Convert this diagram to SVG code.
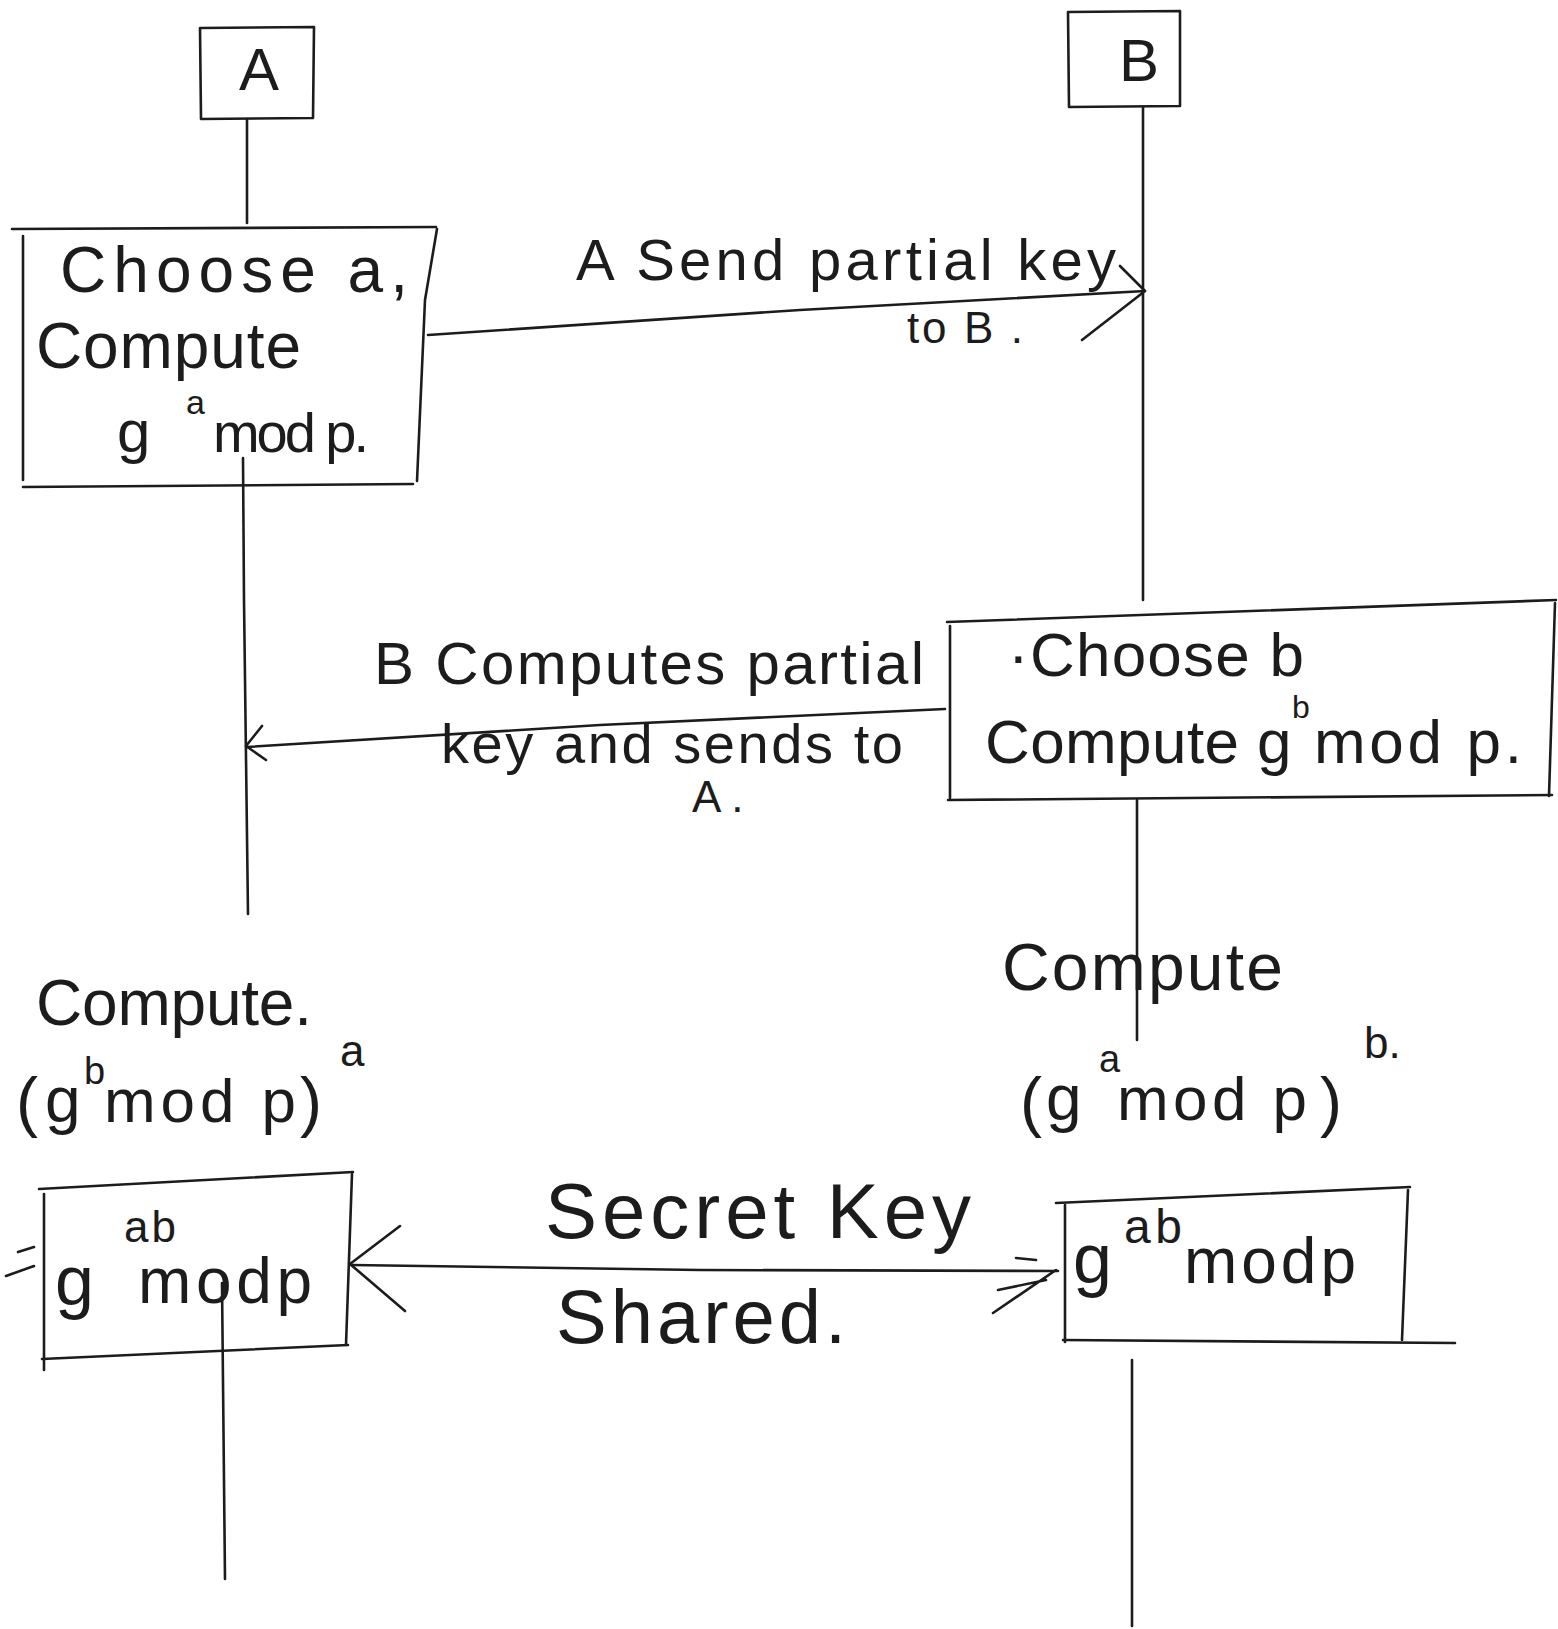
<svg xmlns="http://www.w3.org/2000/svg" width="1558" height="1629" viewBox="0 0 1558 1629">
<style>
  .ln{fill:none;stroke:#1c1c1c;stroke-width:2.6;stroke-linecap:round;stroke-linejoin:round}
  .t{font-family:"Liberation Sans","DejaVu Sans",sans-serif;fill:#1c1c1c}
  .sup{font-size:38px}
</style>
<rect width="1558" height="1629" fill="#ffffff"/>
<g id="lifelines">
  <path class="ln" d="M247 119 L247 223"/>
  <path class="ln" d="M243 458 L244 600 L248 914"/>
  <path class="ln" d="M222 1283 L225 1579"/>
  <path class="ln" d="M1143 107 L1143 600"/>
  <path class="ln" d="M1137 800 L1137 1040"/>
  <path class="ln" d="M1132 1360 L1132 1626"/>
</g>
<g id="node-A">
  <path class="ln" d="M200 28 L314 27 L313 118 L201 119 Z"/>
  <text class="t" x="259" y="90" font-size="60" text-anchor="middle">A</text>
</g>
<g id="node-B">
  <path class="ln" d="M1068 12 L1180 11 L1180 106 L1069 107 Z"/>
  <text class="t" x="1139" y="81" font-size="60" text-anchor="middle">B</text>
</g>
<g id="node-choose-a">
  <path class="ln" d="M12 229 L436 227"/>
  <path class="ln" d="M23 236 L23 480"/>
  <path class="ln" d="M23 487 L413 484"/>
  <path class="ln" d="M437 229 L425 300 L417 481"/>
  <text class="t" x="60" y="292" font-size="64" textLength="348" lengthAdjust="spacing">Choose a,</text>
  <text class="t" x="36" y="368" font-size="64" textLength="265" lengthAdjust="spacing">Compute</text>
  <text class="t" x="117" y="452" font-size="60">g</text>
  <text class="t" x="186" y="414" font-size="34">a</text>
  <text class="t" x="213" y="452" font-size="56" textLength="156" lengthAdjust="spacing">mod p.</text>
</g>
<g id="node-choose-b">
  <path class="ln" d="M947 622 L1556 600"/>
  <path class="ln" d="M950 626 L950 798"/>
  <path class="ln" d="M948 800 L1552 795"/>
  <path class="ln" d="M1555 603 L1549 796"/>
  <text class="t" x="1008" y="676" font-size="62" textLength="296" lengthAdjust="spacing">·Choose b</text>
  <text class="t" x="985" y="763" font-size="62" textLength="254" lengthAdjust="spacing">Compute</text>
  <text class="t" x="1257" y="763" font-size="62">g</text>
  <text class="t" x="1292" y="718" font-size="32">b</text>
  <text class="t" x="1314" y="763" font-size="62" textLength="208" lengthAdjust="spacing">mod p.</text>
</g>
<g id="node-compute-left">
  <text class="t" x="36" y="1025" font-size="64" textLength="276" lengthAdjust="spacing">Compute.</text>
  <text class="t" x="16" y="1124" font-size="66">(</text>
  <text class="t" x="45" y="1122" font-size="64">g</text>
  <text class="t sup" x="84" y="1084">b</text>
  <text class="t" x="104" y="1122" font-size="62" textLength="192" lengthAdjust="spacing">mod p</text>
  <text class="t" x="300" y="1124" font-size="66">)</text>
  <text class="t" x="340" y="1066" font-size="44">a</text>
</g>
<g id="node-compute-right">
  <text class="t" x="1002" y="990" font-size="66" textLength="281" lengthAdjust="spacing">Compute</text>
  <text class="t" x="1020" y="1124" font-size="66">(</text>
  <text class="t" x="1046" y="1120" font-size="64">g</text>
  <text class="t sup" x="1099" y="1072">a</text>
  <text class="t" x="1117" y="1120" font-size="62" textLength="190" lengthAdjust="spacing">mod p</text>
  <text class="t" x="1320" y="1124" font-size="66">)</text>
  <text class="t" x="1364" y="1058" font-size="44">b.</text>
</g>
<g id="node-key-left">
  <path class="ln" d="M39 1189 L353 1172"/>
  <path class="ln" d="M44 1194 L44 1370"/>
  <path class="ln" d="M42 1359 L348 1345"/>
  <path class="ln" d="M352 1174 L346 1345"/>
  <path class="ln" d="M18 1252 L34 1247 M6 1276 L34 1266"/>
  <text class="t" x="55" y="1305" font-size="70">g</text>
  <text class="t" x="124" y="1242" font-size="44" textLength="52" lengthAdjust="spacing">ab</text>
  <text class="t" x="138" y="1303" font-size="64" textLength="174" lengthAdjust="spacing">modp</text>
</g>
<g id="node-key-right">
  <path class="ln" d="M1056 1203 L1410 1187"/>
  <path class="ln" d="M1065 1205 L1065 1342"/>
  <path class="ln" d="M1063 1340 L1455 1343"/>
  <path class="ln" d="M1408 1190 L1402 1340"/>
  <text class="t" x="1073" y="1283" font-size="70">g</text>
  <text class="t" x="1124" y="1243" font-size="48" textLength="58" lengthAdjust="spacing">ab</text>
  <text class="t" x="1184" y="1283" font-size="64" textLength="172" lengthAdjust="spacing">modp</text>
</g>
<g id="connectors">
  <path class="ln" d="M428 335 L800 310 L1145 291"/>
  <path class="ln" d="M1120 266 L1145 291 L1082 340"/>
  <path class="ln" d="M945 709 L600 725 L247 747"/>
  <path class="ln" d="M262 726 L246 746 L266 760"/>
  <path class="ln" d="M352 1265 L700 1270 L1058 1271"/>
  <path class="ln" d="M400 1226 L350 1264 L405 1311"/>
  <path class="ln" d="M1016 1258 L1036 1260 M998 1290 L1046 1280 M993 1313 L1056 1270"/>
</g>
<g id="labels">
  <text class="t" x="576" y="280" font-size="58" textLength="540" lengthAdjust="spacing">A Send partial key</text>
  <text class="t" x="907" y="343" font-size="44" textLength="116" lengthAdjust="spacing">to B .</text>
  <text class="t" x="374" y="684" font-size="60" textLength="550" lengthAdjust="spacing">B Computes partial</text>
  <text class="t" x="441" y="763" font-size="56" textLength="462" lengthAdjust="spacing">key and sends to</text>
  <text class="t" x="692" y="812" font-size="44">A .</text>
  <text class="t" x="545" y="1238" font-size="78" textLength="426" lengthAdjust="spacing">Secret Key</text>
  <text class="t" x="556" y="1343" font-size="76" textLength="290" lengthAdjust="spacing">Shared.</text>
</g>
</svg>
